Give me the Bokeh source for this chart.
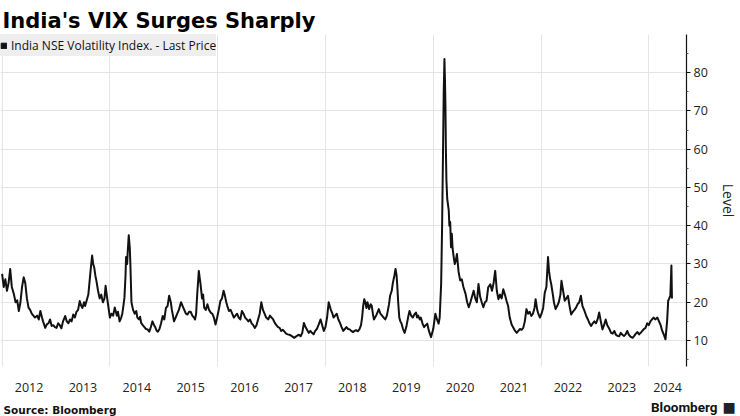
from bokeh.plotting import figure
from bokeh.layouts import column, row
from bokeh.models import Range1d, FixedTicker, Label, Legend, LegendItem, Title
from bokeh.embed import file_html
from bokeh.resources import INLINE

# ---- data (fractional year, India VIX level) ----
years = [
2012.00,2012.03,2012.06,2012.09,2012.12,2012.15,2012.18,2012.22,2012.25,2012.28,2012.31,2012.34,2012.37,2012.40,2012.43,2012.46,2012.49,2012.52,2012.55,2012.58,2012.61,2012.65,2012.68,2012.71,2012.74,2012.76,2012.80,2012.83,2012.86,2012.89,2012.92,2012.95,2012.98,
2013.01,2013.04,2013.07,2013.10,2013.13,2013.17,2013.20,2013.23,2013.26,2013.29,2013.32,2013.35,2013.38,2013.41,2013.44,2013.47,2013.49,2013.52,2013.54,2013.57,2013.60,2013.62,2013.64,2013.67,2013.69,2013.71,2013.73,2013.75,2013.78,2013.81,2013.84,2013.87,2013.90,2013.92,2013.95,2013.97,
2014.00,2014.03,2014.06,2014.09,2014.13,2014.15,2014.18,2014.21,2014.23,2014.25,2014.27,2014.29,2014.30,2014.32,2014.33,2014.35,2014.37,2014.38,2014.40,2014.43,2014.46,2014.49,2014.51,2014.54,2014.56,2014.58,2014.61,2014.64,2014.67,2014.70,2014.73,2014.76,2014.79,2014.82,2014.84,2014.87,2014.89,2014.92,2014.95,2014.98,
2015.01,2015.04,2015.07,2015.10,2015.13,2015.15,2015.17,2015.19,2015.22,2015.25,2015.28,2015.32,2015.35,2015.38,2015.41,2015.44,2015.47,2015.50,2015.53,2015.56,2015.58,2015.60,2015.62,2015.63,2015.65,2015.67,2015.68,2015.71,2015.73,2015.75,2015.78,2015.81,2015.84,2015.87,2015.90,2015.93,2015.96,2015.99,
2016.02,2016.05,2016.08,2016.11,2016.13,2016.16,2016.18,2016.21,2016.24,2016.27,2016.30,2016.33,2016.36,2016.39,2016.42,2016.45,2016.48,2016.51,2016.54,2016.57,2016.60,2016.63,2016.66,2016.69,2016.72,2016.75,2016.78,2016.81,2016.84,2016.87,2016.90,2016.94,2016.97,
2017.00,2017.03,2017.06,2017.09,2017.12,2017.15,2017.18,2017.21,2017.24,2017.27,2017.30,2017.33,2017.36,2017.39,2017.42,2017.45,2017.48,2017.51,2017.54,2017.57,2017.60,2017.63,2017.65,2017.69,2017.72,2017.75,2017.78,2017.81,2017.84,2017.87,2017.91,2017.94,2017.97,
2018.00,2018.03,2018.06,2018.08,2018.10,2018.13,2018.15,2018.18,2018.21,2018.24,2018.27,2018.30,2018.33,2018.36,2018.39,2018.42,2018.45,2018.48,2018.51,2018.54,2018.57,2018.60,2018.63,2018.66,2018.68,2018.70,2018.72,2018.74,2018.76,2018.78,2018.81,2018.84,2018.86,2018.88,2018.90,2018.92,2018.94,2018.97,2018.99,
2019.02,2019.05,2019.08,2019.11,2019.14,2019.16,2019.18,2019.20,2019.23,2019.25,2019.28,2019.30,2019.32,2019.33,2019.35,2019.37,2019.39,2019.41,2019.44,2019.47,2019.50,2019.52,2019.54,2019.56,2019.59,2019.62,2019.65,2019.68,2019.70,2019.72,2019.75,2019.77,2019.80,2019.83,2019.86,2019.89,2019.92,2019.96,
2020.00,2020.02,2020.04,2020.07,2020.10,2020.12,2020.147,2020.165,2020.184,2020.195,2020.208,2020.218,2020.227,2020.235,2020.245,2020.26,2020.288,2020.30,2020.315,2020.33,2020.345,2020.36,2020.38,2020.40,2020.42,2020.44,2020.47,2020.50,2020.53,2020.56,2020.60,2020.63,2020.66,2020.69,2020.72,2020.75,2020.78,2020.81,2020.84,2020.87,2020.90,2020.93,2020.96,2020.99,
2021.02,2021.06,2021.09,2021.12,2021.15,2021.18,2021.21,2021.24,2021.27,2021.30,2021.33,2021.36,2021.39,2021.42,2021.455,2021.48,2021.52,2021.55,2021.58,2021.61,2021.64,2021.67,2021.70,2021.73,2021.76,2021.79,2021.82,2021.85,2021.88,2021.90,2021.93,2021.95,2021.98,
2022.01,2022.04,2022.07,2022.10,2022.13,2022.15,2022.17,2022.19,2022.22,2022.24,2022.27,2022.30,2022.33,2022.36,2022.38,2022.41,2022.44,2022.47,2022.50,2022.53,2022.56,2022.59,2022.62,2022.65,2022.68,2022.71,2022.74,2022.77,2022.80,2022.84,2022.87,2022.90,2022.93,2022.96,2022.99,
2023.02,2023.05,2023.08,2023.11,2023.14,2023.17,2023.20,2023.23,2023.27,2023.30,2023.33,2023.36,2023.39,2023.42,2023.45,2023.48,2023.51,2023.54,2023.57,2023.60,2023.63,2023.66,2023.70,2023.73,2023.76,2023.79,2023.82,2023.85,2023.88,2023.91,2023.94,2023.97,
2024.00,2024.03,2024.06,2024.09,2024.12,2024.16,2024.19,2024.22,2024.25,2024.28,2024.31,2024.34,2024.36,2024.38,2024.40,2024.42,2024.43,
]
vix = [
27.4,24,26,23,25,28.7,24,22,20,20.5,17.7,20,24,26.5,25,21,18.6,18,17,16.5,16,16.5,15.5,17.7,16,15,13.3,14.2,14.5,15.5,13.8,14,13.5,
13.3,14.5,14,13.2,15,16.4,15,14.5,15.5,15,16.8,16,17.5,18,20.3,19,18.5,20,19,20.5,22,25,28,32.2,30,29,27,25.6,23,21,22,20,21,24.3,21,19,
16,17,16.5,18.6,16.5,17.5,15,16,17,19,21.2,27,31.8,30,33,37.5,34,30,20,18,17,17.7,16,15.5,16.2,14.6,14,13.5,13,12.9,12.3,13.5,15,14,13.5,12.5,12.3,13,14.5,16.4,
15.5,18.5,19,21.7,20,18,16.5,15,16,17,18,20,19,18,17,16.8,17.5,17.5,16.5,16,15.5,17,22,24,28.2,26,25,21,22,18.6,18,19.5,18,17.3,17,16,14.2,16,
18,20.3,21,23,22,20,19,17.7,18,17,16,16.5,17,16,15.5,17.7,17,16,15.5,15,15.5,14.5,14,13.3,14,15.5,17,20,18,17,16,15.5,16.5,
16,15.5,14.6,14,13.5,13.3,12.5,12.8,12.3,11.8,11.6,11.5,11.3,11,10.7,11,11.3,11.5,11.1,12,14.6,13.5,13,12,12.5,12,11.6,12.5,13,14,15.5,14,12.5,
13.5,16,20,19,18,17,16,16.5,17,15.5,14.6,13.5,12.5,13,13.5,13,12.9,12.5,12.2,12.5,12.7,12.4,12.9,14,16,19,20.8,20,18.5,20,18.2,19.5,19,17,15.5,16,16.5,17.5,18.2,
17,16.5,16,15.5,16.5,18,19.5,21.7,23,25,27,28.7,27,25,20,16,15,14.5,13,12,13.5,15,16.5,17.7,16.5,16,16.8,17.3,16,16.5,15.5,16,14.5,13.5,14,14.4,12.5,10.9,
13,15,17,15.5,14.4,16,24.8,40,62,75,83.6,78,71,60,51.8,47,44,40,41,34.4,37.9,34,31.8,30,31,32.6,28,25.7,26,24,22.2,20,18.7,20,21.5,23,21,20,24.8,21.5,20,18.7,20,20.4,
23.9,24.7,23,25,28.2,23,20.8,22,21,23.4,22,20.4,19,16,14.2,13.5,12.5,12,12.5,13,12.8,13.3,15,18.2,17,17.5,16.4,17,18.5,20.8,18,17,16,
17,18.5,22.5,24,31.8,28,26,24.7,22,20,18.2,19,20,22,25.6,23,20.4,21,21.7,19,16.8,17.5,18,18.6,19.5,20,21.7,19,18,16.4,15.5,14.5,13.8,14.5,15,
14.5,15.5,17.3,15,12.9,14,15.5,14,13,12,11.8,12.5,11.5,11.2,11.1,12,11.5,11.2,11.6,12.5,11.5,11,10.7,11.2,11.8,12.2,11.6,12,12.5,13,13.3,14.5,
14,15,15.5,16,15.5,16,15,14,12.5,11.5,10.3,15,20.4,21,21.7,29.6,21,
]

year_labels = ["2012", "2013", "2014", "2015", "2016", "2017", "2018",
               "2019", "2020", "2021", "2022", "2023", "2024"]
y_ticks = [10, 20, 30, 40, 50, 60, 70, 80]

title_text = "India's VIX Surges Sharply"
series_name = "India NSE Volatility Index. - Last Price"
axis_title = "Level"
source_text = "Source: Bloomberg"
brand_text = "Bloomberg"

W = 740
FOOT_H = 18
X0, X1 = 2011.97, 2024.70
Y0, Y1 = 3.2, 90

# ---- main chart ----
p = figure(width=W, height=416 - FOOT_H, output_backend="svg", toolbar_location=None,
           x_range=Range1d(X0, X1), y_range=Range1d(Y0, Y1),
           y_axis_location="right",
           min_border_left=0, min_border_right=49, min_border_top=34,
           min_border_bottom=416 - FOOT_H - 366)
p.title = Title(text=title_text, align="left", offset=2, standoff=4,
                text_font="DejaVu Sans", text_font_style="bold",
                text_font_size="21px", text_color="#000000")
p.outline_line_color = None
p.background_fill_color = "white"
p.border_fill_color = "white"

p.xgrid.ticker = FixedTicker(ticks=[2012, 2014, 2016, 2018, 2020, 2022, 2024])
p.ygrid.ticker = FixedTicker(ticks=y_ticks + [90])
p.xgrid.grid_line_color = "#e4e4e4"
p.ygrid.grid_line_color = "#e4e4e4"

tick_pos = [int(l) + 0.5 for l in year_labels[:-1]] + [(2024 + X1) / 2]
xa = p.xaxis[0]
xa.ticker = FixedTicker(ticks=tick_pos)
xa.major_label_overrides = {t: l for t, l in zip(tick_pos, year_labels)}
xa.axis_line_color = None
xa.major_tick_line_color = None
xa.minor_tick_line_color = None
xa.major_tick_out = 0
xa.major_tick_in = 0
xa.major_label_standoff = 16
xa.major_label_text_font = "Open Sans"
xa.major_label_text_font_size = "12.5px"
xa.major_label_text_color = "#222222"

ya = p.yaxis[0]
ya.ticker = FixedTicker(ticks=y_ticks, minor_ticks=[5, 15, 25, 35, 45, 55, 65, 75, 85])
ya.axis_line_color = "#111111"
ya.axis_line_width = 1.2
ya.major_tick_line_color = "#111111"
ya.major_tick_in = 0
ya.major_tick_out = 4
ya.minor_tick_line_color = "#555555"
ya.minor_tick_in = 0
ya.minor_tick_out = 2
ya.major_label_standoff = 3
ya.major_label_text_font = "Open Sans"
ya.major_label_text_font_size = "12.5px"
ya.major_label_text_color = "#222222"
ya.axis_label = axis_title
ya.axis_label_text_font = "Open Sans"
ya.axis_label_text_font_size = "14px"
ya.axis_label_text_font_style = "normal"
ya.axis_label_text_color = "#222222"
ya.axis_label_standoff = 8

p.line(years, vix, line_color="#111111", line_width=2, line_join="round")

# square swatch for the legend (an off-range block, so only the legend shows it)
sq = p.quad(left=[X0 - 6], right=[X0 - 5], bottom=[Y0 - 60], top=[Y0 - 50],
            fill_color="#111111", line_color="#111111")
legend = Legend(items=[LegendItem(label=series_name, renderers=[sq])],
                location="top_left", margin=0, padding=1, spacing=0,
                glyph_width=7, glyph_height=7, label_standoff=4,
                label_text_font="Open Sans", label_text_font_size="12px",
                label_text_color="#111111", label_height=22,
                background_fill_color="#eeeeee", background_fill_alpha=1,
                border_line_color=None)
p.add_layout(legend)

# ---- footer strip ----
foot = figure(width=W, height=FOOT_H, output_backend="svg", toolbar_location=None,
              x_range=Range1d(0, W), y_range=Range1d(0, FOOT_H),
              min_border_left=0, min_border_right=0, min_border_top=0, min_border_bottom=0)
foot.axis.visible = False
foot.grid.visible = False
foot.outline_line_color = None
foot.background_fill_color = "white"
foot.border_fill_color = "white"
foot.add_layout(Label(x=3, y=1, text=source_text,
                      text_font="DejaVu Sans", text_font_style="bold", text_font_size="10.5px",
                      text_color="#111111", text_baseline="bottom"))
foot.add_layout(Label(x=717, y=2, text=brand_text,
                      text_font="Roboto", text_font_style="bold", text_font_size="13.5px",
                      text_color="#111111", text_baseline="bottom", text_align="right"))
foot.add_layout(Label(x=722, y=2, text="\u25a0",
                      text_font="DejaVu Sans", text_font_size="14px",
                      text_color="#222222", text_baseline="bottom"))

layout = column(p, row(foot), spacing=0)
open("out.html", "w").write(file_html(layout, INLINE))
